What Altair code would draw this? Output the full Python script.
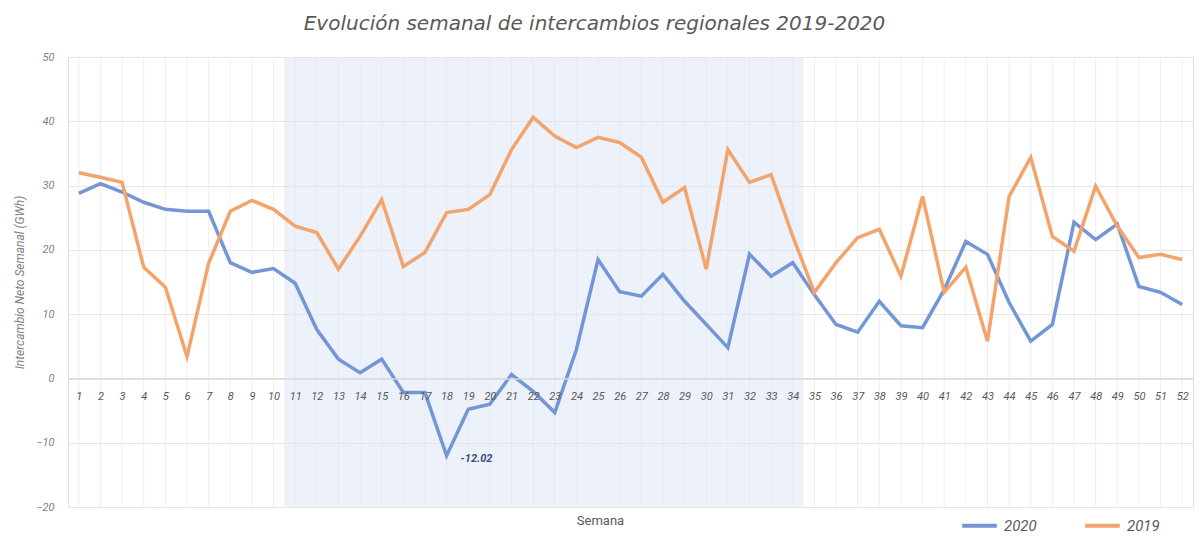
import altair as alt
import pandas as pd

weeks = list(range(1, 53))

v2020 = [28.8, 30.3, 29.0, 27.4, 26.3, 26.0, 26.0, 18.0, 16.5, 17.1,
         14.8, 7.6, 3.0, 0.9, 3.0, -2.2, -2.2, -12.02, -4.8, -4.0,
         0.6, -2.0, -5.3, 4.5, 18.5, 13.5, 12.8, 16.2, 12.0, 8.4,
         4.8, 19.3, 15.9, 18.0, 13.0, 8.4, 7.2, 12.0, 8.2, 7.9,
         13.8, 21.3, 19.3, 11.8, 5.8, 8.4, 24.3, 21.6, 24.0, 14.3,
         13.4, 11.5]

v2019 = [32.0, 31.3, 30.5, 17.3, 14.2, 3.4, 17.9, 26.0, 27.7, 26.3,
         23.7, 22.7, 17.0, 22.1, 27.8, 17.4, 19.6, 25.8, 26.3, 28.6,
         35.6, 40.6, 37.7, 35.9, 37.5, 36.7, 34.4, 27.4, 29.7, 17.0,
         35.6, 30.5, 31.7, 22.1, 13.4, 18.0, 21.9, 23.2, 15.9, 28.3,
         13.4, 17.3, 5.8, 28.3, 34.4, 22.1, 19.8, 29.9, 23.7, 18.8,
         19.3, 18.5]

series_names = ["2020", "2019"]
series_colors = ["#7396d6", "#f2a46c"]
y_ticks = [-20, -10, 0, 10, 20, 30, 40, 50]
shade_weeks = [10.5, 34.5]
min_label = "-12.02"
min_week = 18
min_value = -12.02

W, H = 1125, 450

rows = []
for name, vals in zip(series_names, [v2020, v2019]):
    for w, v in zip(weeks, vals):
        rows.append({"week": w, "value": v, "series": name})
df = pd.DataFrame(rows)

grid_df = pd.DataFrame({"week": weeks, "value": [min(y_ticks)] * len(weeks),
                        "value_end": [max(y_ticks)] * len(weeks)})
shade_df = pd.DataFrame([{"week": shade_weeks[0], "week_end": shade_weeks[1],
                          "value": min(y_ticks), "value_end": max(y_ticks)}])
ann_df = pd.DataFrame([{"week": min_week, "value": min_value, "label": min_label}])

FONT = "Roboto"
xscale = alt.Scale(domain=[0.5, 52.5], nice=False, zero=False)
yscale = alt.Scale(domain=[min(y_ticks), max(y_ticks)], nice=False)
zero_offset = -(H - H * (max(y_ticks) - 0) / (max(y_ticks) - min(y_ticks)))

xaxis = alt.Axis(values=weeks, format="d", labelAngle=0, offset=zero_offset,
                 grid=False, domainColor="#d9d9d9", domainWidth=1.5, ticks=False,
                 labelPadding=12, labelFont=FONT, labelFontStyle="italic",
                 labelFontSize=11, labelColor="#595959", zindex=1,
                 title="Semana", titleFont=FONT, titleFontWeight="normal",
                 titleFontSize=13, titleColor="#595959",
                 titleX=532, titleY=136, titleBaseline="top")
yaxis = alt.Axis(values=y_ticks, grid=True, gridColor="#e6e6e6", domain=False,
                 ticks=False, labelPadding=14, labelFont=FONT,
                 labelFontStyle="italic", labelFontSize=11, labelColor="#7f7f7f",
                 title="Intercambio Neto Semanal (GWh)", titleFont=FONT,
                 titleFontStyle="italic", titleFontWeight="normal",
                 titleFontSize=12, titleColor="#7f7f7f", titlePadding=9)

vgrid = alt.Chart(grid_df).mark_rule(color="#efefef", strokeWidth=1).encode(
    x=alt.X("week:Q", scale=xscale, axis=xaxis),
    y=alt.Y("value:Q", scale=yscale, axis=yaxis),
    y2="value_end:Q",
)

shade = alt.Chart(shade_df).mark_rect(color="#dbe4f3", opacity=0.5).encode(
    x=alt.X("week:Q", scale=xscale, axis=xaxis),
    x2="week_end:Q",
    y=alt.Y("value:Q", scale=yscale, axis=yaxis),
    y2="value_end:Q",
)

lines = alt.Chart(df).mark_line(strokeWidth=3.5, strokeJoin="miter").encode(
    x=alt.X("week:Q", scale=xscale, axis=xaxis),
    y=alt.Y("value:Q", scale=yscale, axis=yaxis),
    color=alt.Color("series:N",
                    scale=alt.Scale(domain=series_names, range=series_colors),
                    sort=series_names,
                    legend=alt.Legend(orient="none", legendX=892, legendY=449,
                                      direction="horizontal", title=None,
                                      symbolType="stroke", symbolStrokeWidth=4,
                                      symbolSize=1200, labelFont=FONT,
                                      labelFontSize=15, labelFontStyle="italic",
                                      labelColor="#595959", columnPadding=40,
                                      labelOffset=5)),
    order=alt.Order("series:N", sort="ascending"),
)

ann = alt.Chart(ann_df).mark_text(align="left", baseline="middle", dx=14, dy=3,
                                  font=FONT, fontSize=11, fontWeight="bold",
                                  fontStyle="italic", color="#3b4f7e").encode(
    x=alt.X("week:Q", scale=xscale, axis=xaxis),
    y=alt.Y("value:Q", scale=yscale, axis=yaxis),
    text="label:N",
)

chart = alt.layer(vgrid, shade, lines, ann).properties(
    width=W, height=H,
    title=alt.TitleParams("Evolución semanal de intercambios regionales 2019-2020",
                          font="DejaVu Sans", fontSize=20, fontStyle="italic",
                          fontWeight="normal", color="#595959", offset=17,
                          anchor="middle", dx=-36),
    autosize=alt.AutoSizeParams(type="none"),
    padding={"left": 60, "top": 49, "right": 2, "bottom": 27},
).configure_view(stroke=None).configure(background="white")

chart.save("out.html", embed_options={"renderer": "svg", "actions": False})
